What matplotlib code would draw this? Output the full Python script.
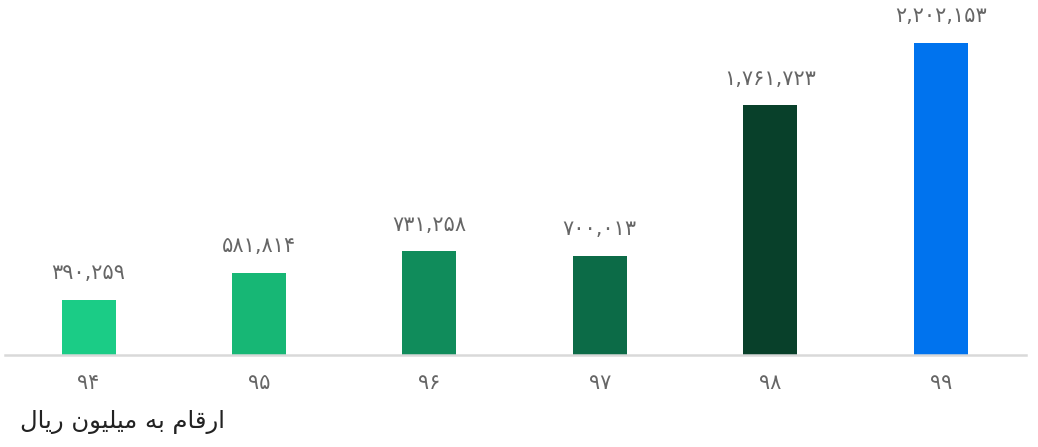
import matplotlib
matplotlib.use("Agg")
import matplotlib.pyplot as plt

# years (solar hijri) and amounts in million rials
years = ["۹۴", "۹۵", "۹۶", "۹۷", "۹۸", "۹۹"]
values = [390259, 581814, 731258, 700013, 1761723, 2202153]
colors = ["#1bcc86", "#17b775", "#108c5b", "#0c6b47", "#08402a", "#0073ee"]

# "ارقام به میلیون ریال" shaped by hand (matplotlib does no arabic joining / rtl)
note = "\uFEDD\uFE8E\uFEF3\uFEAD \uFEE5\uFEEE\uFEF4\uFEE0\uFEF4\uFEE3 \uFEEA\uFE91 \uFEE1\uFE8E\uFED7\uFEAD\uFE8D"

fa_digits = str.maketrans("0123456789", "۰۱۲۳۴۵۶۷۸۹")


def fa_num(v):
    return f"{v:,}".translate(fa_digits)


plt.rcParams["font.family"] = ["DejaVu Sans"]

fig = plt.figure(figsize=(10.38, 4.47), dpi=100)
ax = fig.add_axes([5 / 1038, 92 / 447, 1021 / 1038, 355 / 447])

x = range(len(years))
bars = ax.bar(x, values, width=0.317, color=colors, zorder=2)

for b, v in zip(bars, values):
    ax.annotate(fa_num(v), (b.get_x() + b.get_width() / 2, v),
                xytext=(0, 12), textcoords="offset points",
                ha="center", va="bottom", fontsize=15, color="#666666")

ax.set_xlim(-0.49, 5.5)
ax.set_ylim(0, 2505600)
ax.set_xticks(list(x))
ax.set_xticklabels(years, fontsize=15, color="#666666")
ax.tick_params(axis="x", length=0, pad=13)
ax.set_yticks([])
for s in ["top", "right", "left"]:
    ax.spines[s].set_visible(False)
ax.spines["bottom"].set_color("#d9d9d9")
ax.spines["bottom"].set_linewidth(1.8)

fig.text(20 / 1038, 1 - 422 / 447, note, fontsize=17.5, color="#222222",
         ha="left", va="center")

fig.savefig("out.png", dpi=100)
